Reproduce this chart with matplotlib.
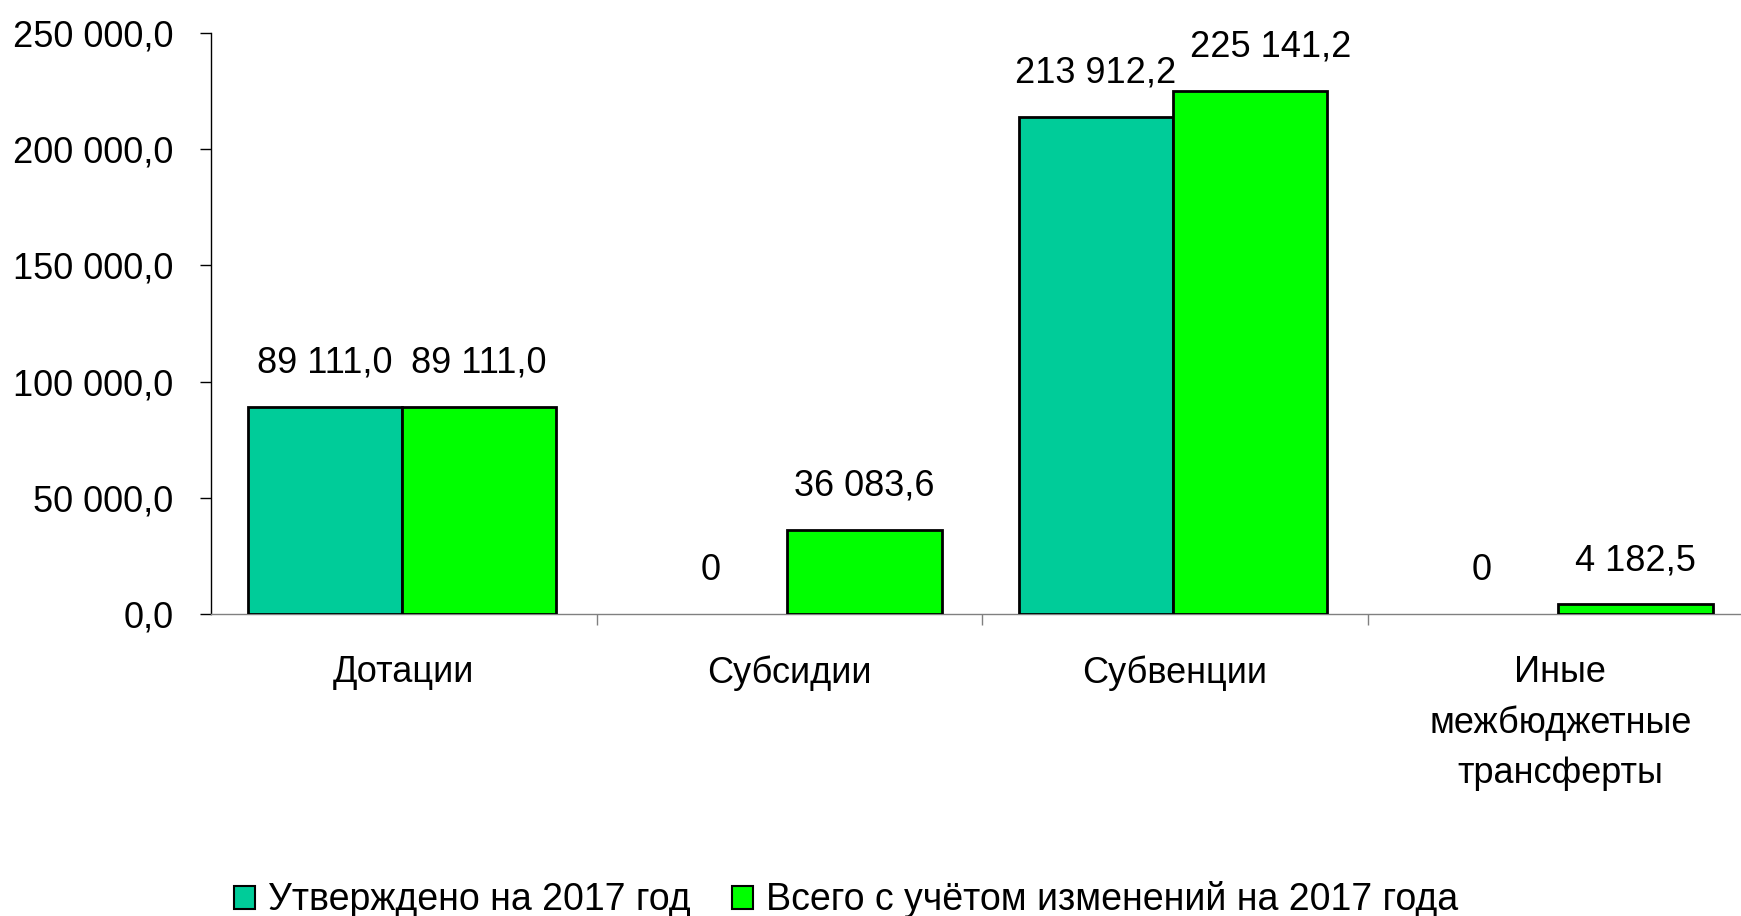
import matplotlib
matplotlib.use("Agg")
import matplotlib.pyplot as plt
from matplotlib.patches import Patch

categories = ["Дотации", "Субсидии", "Субвенции", "Иные\nмежбюджетные\nтрансферты"]
series_names = ["Утверждено на 2017 год", "Всего с учётом изменений на 2017 года"]
approved = [89111.0, 0.0, 213912.2, 0.0]
revised = [89111.0, 36083.6, 225141.2, 4182.5]
yticks = [0, 50000, 100000, 150000, 200000, 250000]
colors = ["#00CC99", "#00FF00"]

plt.rcParams['font.family'] = ['Liberation Sans', 'DejaVu Sans']
FS = 26


def fmt(v, zero_short=False):
    if zero_short and v == 0:
        return "0"
    return f"{v:,.1f}".replace(",", " ").replace(".", ",")


fig = plt.figure(figsize=(17.41, 9.16), dpi=100)
W, H = 1741, 916
left, right, top, bottom = 211, 1753, 33, 614
ax = fig.add_axes([left / W, 1 - bottom / H, (right - left) / W, (bottom - top) / H])

x = list(range(len(categories)))
bw = 0.4
shift = -0.005
for i, (vals, col) in enumerate(zip([approved, revised], colors)):
    xs = [xi - bw / 2 + i * bw + shift for xi in x]
    lws = [2.0 if v != 0 else 0.0 for v in vals]
    ax.bar(xs, vals, width=bw, color=col, edgecolor="black", linewidth=lws, zorder=3)
    for j, (xx, v) in enumerate(zip(xs, vals)):
        dx = 0
        # nudge a label that would collide with its neighbour
        if i == 1 and j > 0 and approved[j] != 0 and revised[j] > approved[j] and \
                abs(revised[j] - approved[j]) < 20000:
            dx = 15
        ax.annotate(fmt(v, zero_short=True), (xx, v), xytext=(dx, 31.5), textcoords="offset points",
                    ha="center", va="center", fontsize=FS, color="black")

ax.set_xlim(-0.5, len(categories) - 0.5)
ax.set_ylim(0, 250000)
ax.set_yticks(yticks)
ax.set_yticklabels([fmt(v) for v in yticks])
ax.tick_params(axis="y", length=8, width=1, color="black", pad=19, labelsize=FS)

# major ticks between categories (no labels), minor ticks at centers with labels
ax.set_xticks([i + 0.5 for i in range(len(categories) - 1)])
ax.set_xticklabels([])
ax.set_xticks(x, minor=True)
ax.set_xticklabels(categories, minor=True)
ax.tick_params(axis="x", which="major", length=8, width=1, color="#808080")
ax.tick_params(axis="x", which="minor", length=0, pad=29.5, labelsize=FS)
for lab in ax.get_xticklabels(minor=True):
    lab.set_linespacing(1.55)

for s in ["top", "right"]:
    ax.spines[s].set_visible(False)
ax.spines["left"].set_linewidth(1.0)
ax.spines["left"].set_color("black")
ax.spines["bottom"].set_linewidth(1.0)
ax.spines["bottom"].set_color("#808080")

handles = [Patch(facecolor=c, edgecolor="black", linewidth=1.5) for c in colors]
fig.legend(handles, series_names, loc="center", bbox_to_anchor=(846 / W, 1 - 900 / H), ncol=2,
           frameon=False, fontsize=27, handlelength=0.55, handleheight=0.55,
           handletextpad=0.35, columnspacing=1.1, borderpad=0)

fig.savefig("out.png", dpi=100)
